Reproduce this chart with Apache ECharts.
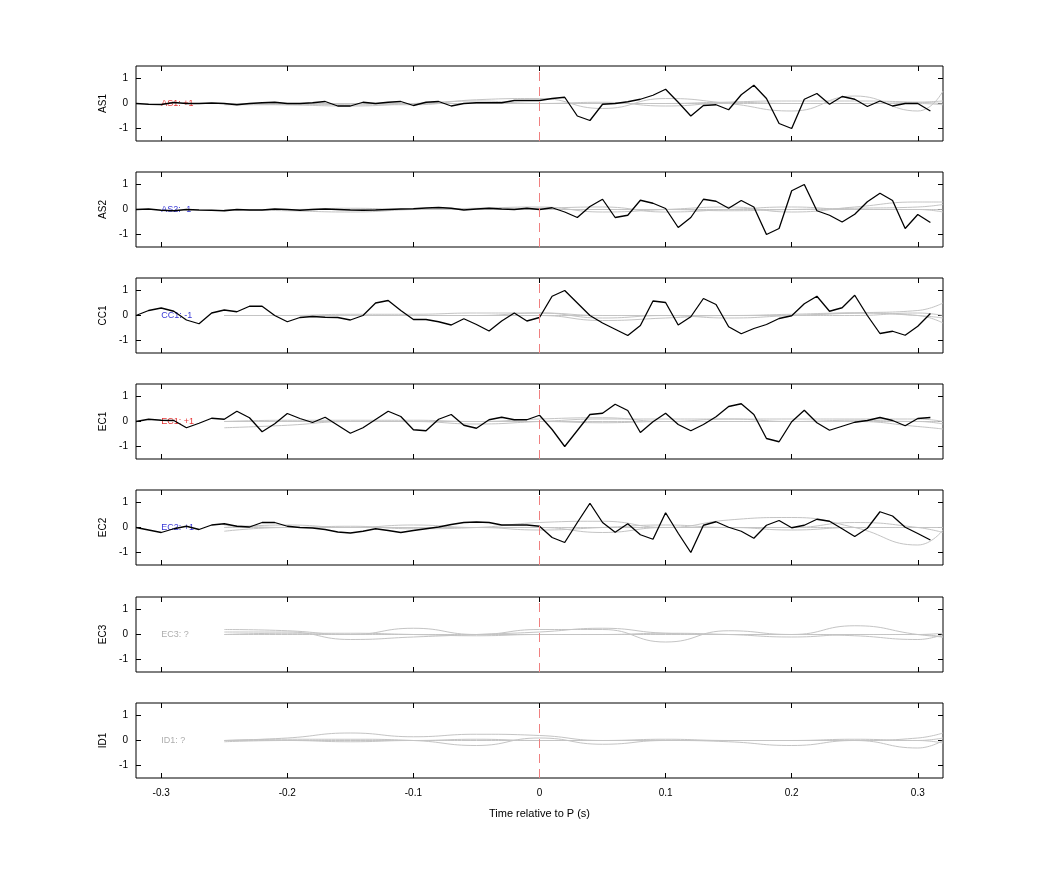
<!DOCTYPE html>
<html><head><meta charset="utf-8">
<script src="https://cdn.jsdelivr.net/npm/echarts@6/dist/echarts.min.js"></script>
<style>html,body{margin:0;padding:0;background:#fff}#c{width:1042px;height:875px}</style>
</head><body><div id="c"></div>
<script>
const channels = ['AS1','AS2','CC1','EC1','EC2','EC3','ID1'];
const labels = ['AS1: +1','AS2: -1','CC1: -1','EC1: +1','EC2: +1','EC3: ?','ID1: ?'];
const labelColors = ['#e00000','#0000cc','#0000cc','#e00000','#0000cc','#999999','#999999'];
const times = [-0.32,-0.31,-0.30,-0.29,-0.28,-0.27,-0.26,-0.25,-0.24,-0.23,-0.22,-0.21,-0.20,-0.19,-0.18,-0.17,-0.16,-0.15,-0.14,-0.13,-0.12,-0.11,-0.10,-0.09,-0.08,-0.07,-0.06,-0.05,-0.04,-0.03,-0.02,-0.01,
 0,0.01,0.02,0.03,0.04,0.05,0.06,0.07,0.08,0.09,0.10,0.11,0.12,0.13,0.14,0.15,0.16,0.17,0.18,0.19,0.20,0.21,0.22,0.23,0.24,0.25,0.26,0.27,0.28,0.29,0.30,0.31];
const AS1 = [0,-0.03,-0.04,0.04,0,0,0.02,0,-0.05,0,0.03,0.05,0,0,0.03,0.08,-0.1,-0.1,0.05,0,0.05,0.08,-0.08,0.05,0.08,-0.1,0,0.03,0.03,0.03,0.12,0.12,
 0.12,0.2,0.25,-0.5,-0.68,-0.03,0,0.07,0.17,0.33,0.57,0.05,-0.5,-0.08,-0.05,-0.25,0.35,0.73,0.2,-0.8,-1.0,0.17,0.4,-0.03,0.28,0.17,-0.12,0.1,-0.1,0,0,-0.3];
const AS2 = [0,0.02,-0.03,-0.05,0,-0.02,-0.03,-0.05,0,-0.02,-0.02,0.02,0,-0.03,0,0.02,0,-0.02,-0.03,-0.02,0,0.02,0.03,0.06,0.08,0.05,-0.02,0.02,0.05,0.02,0,0.05,
 0,0.07,-0.1,-0.32,0.12,0.41,-0.32,-0.23,0.37,0.25,0.04,-0.72,-0.32,0.41,0.33,0.05,0.36,0.1,-1.0,-0.76,0.75,1.0,-0.05,-0.23,-0.5,-0.19,0.31,0.65,0.36,-0.76,-0.2,-0.52];
const CC1 = [0,0.2,0.3,0.17,-0.18,-0.33,0.1,0.22,0.15,0.37,0.37,0,-0.25,-0.08,-0.04,-0.07,-0.08,-0.18,0,0.5,0.6,0.2,-0.16,-0.16,-0.25,-0.38,-0.13,-0.36,-0.62,-0.22,0.1,-0.22,
 -0.08,0.77,1.0,0.5,0,-0.3,-0.55,-0.8,-0.4,0.58,0.52,-0.38,-0.05,0.68,0.44,-0.45,-0.73,-0.52,-0.36,-0.12,-0.01,0.47,0.77,0.17,0.31,0.81,0,-0.72,-0.63,-0.79,-0.43,0.08];
const EC1 = [0,0.09,0.05,0.04,-0.25,-0.07,0.13,0.09,0.41,0.15,-0.41,-0.09,0.32,0.12,-0.04,0.17,-0.15,-0.47,-0.25,0.08,0.41,0.2,-0.33,-0.37,0.09,0.28,-0.15,-0.27,0.07,0.17,0.07,0.07,
 0.25,-0.32,-1.0,-0.36,0.28,0.33,0.69,0.44,-0.44,-0.01,0.33,-0.12,-0.37,-0.12,0.19,0.6,0.71,0.28,-0.68,-0.81,-0.01,0.45,-0.05,-0.35,-0.19,-0.03,0.04,0.16,0.04,-0.17,0.12,0.16];
const EC2 = [0,-0.1,-0.2,-0.05,0.05,-0.08,0.1,0.15,0.05,0.02,0.2,0.2,0.05,0,-0.02,-0.08,-0.18,-0.22,-0.15,-0.05,-0.12,-0.2,-0.12,-0.05,0.02,0.12,0.2,0.22,0.2,0.1,0.1,0.1,
 0.05,-0.4,-0.6,0.2,0.97,0.2,-0.19,0.15,-0.29,-0.47,0.59,-0.23,-1.0,0.09,0.23,0.01,-0.15,-0.43,0.09,0.28,-0.01,0.09,0.33,0.25,-0.05,-0.36,-0.03,0.63,0.46,0.01,-0.24,-0.5];
const blackSeries = [AS1, AS2, CC1, EC1, EC2, null, null];
const grayTimes = [-0.25,-0.2,-0.15,-0.1,-0.05,0,0.05,0.1,0.15,0.2,0.25,0.3,0.32];
const grayAS1 = [[0,0,-0.05,-0.05,0.15,0.2,-0.2,0.2,0,-0.3,0.3,-0.3,0.5],[0,-0.05,-0.1,0,0.1,0,0.05,-0.1,0.05,0.1,0.1,0.05,0],[-0.05,-0.05,0,0,0,0,0,0,0.05,0,0,0,-0.05],[0,0,0,0,0,0,0,0,0,0,0,0.05,0.1]];
const grayAS2 = [[0,-0.05,-0.1,0,0.05,0.1,-0.1,0,0.1,-0.1,0.1,0.3,0.3],[0,0,0.05,0,0,0.05,0.1,-0.1,0,0.1,0,0,-0.1],[-0.05,0,0,0,0,0,0,0,-0.05,0,0.05,0.1,0.2],[0,0,0,0,0,0,0,0,0,0,0,0,0]];
const grayCC1 = [[0,0,0,0,0,0.1,-0.1,0,-0.1,0,0.1,0.2,0.5],[0,0,0.05,0.05,0.1,0.1,0,0,0,0.05,0.1,0,-0.3],[0,0,0,0,0,0,-0.2,-0.1,0,0,0.1,0,-0.1],[0,0,0,0,0,0,0,0,0,0,0,0.1,0]];
const grayEC1 = [[-0.25,-0.15,0,0,0,0,0,0,0,0,0,0,-0.1],[0,0.05,0.05,0.05,0,0.1,0.15,0,0.1,0.1,0.1,0.1,0],[0,0,0,0,-0.1,0,0.1,0.1,0.1,0,0,-0.2,-0.3],[0,0,0,0,0,0,-0.05,0,0,0,0.05,0,0]];
const grayEC2 = [[0.1,0,0.05,-0.05,0,0.2,0.25,0,0.3,0.4,0,-0.7,-0.1],[-0.15,0,0,0,0,-0.1,0,0.1,0,0,0.2,0,-0.2],[0,0.1,0,0.1,0,0,-0.2,0,0,-0.1,0,0,0],[0,0,0,0,0,0,0,0,0,0,0,0,0]];
const grayEC3 = [[0.2,0.15,0,0.25,0,0.2,0.2,-0.3,0.15,0,0.35,0,-0.1],[0.1,0.1,-0.2,-0.1,0,0.1,0.25,0.05,0,0,-0.05,-0.2,0],[0,0,0,0,0,0,0,0,0,0,0,0,0.05],[0,0.05,0.05,0,-0.05,0,0,0.05,0,-0.1,0,0,-0.1]];
const grayID1 = [[0,0.1,0.3,0.15,0.25,0.2,0,0.05,0,0,0,0.1,0.3],[0,0.05,0.05,0,-0.2,0.1,-0.15,0,-0.05,-0.2,0,-0.3,0],[-0.05,0,0,0,0.05,0,0,0,0,0,0.05,0,0.1],[0,0,-0.05,0,0,0,0,0,0,0,0,0,-0.1]];
const grays = [grayAS1, grayAS2, grayCC1, grayEC1, grayEC2, grayEC3, grayID1];
const xTicks = [-0.3,-0.2,-0.1,0,0.1,0.2,0.3];
const yTicks = [-1,0,1];

const tops = [66,172,278,384,490,597,703];
const grid=[], xAxis=[], yAxis=[], series=[];
const tick = {inside:true,length:5,lineStyle:{color:'#000'}};
channels.forEach((ch,i)=>{
  grid.push({left:136,right:99,top:tops[i],height:75,show:true,borderColor:'#000',borderWidth:1});
  const xb = {type:'value',gridIndex:i,min:-0.32,max:0.32,
    axisLine:{show:false,onZero:false},splitLine:{show:false},
    axisTick:Object.assign({customValues:xTicks},tick),
    axisLabel:{show:i===6,customValues:xTicks,color:'#000',fontSize:10,fontFamily:'Liberation Sans',margin:10}};
  if(i===6){xb.name='Time relative to P (s)';xb.nameLocation='middle';xb.nameGap=30;xb.nameTextStyle={color:'#000',fontSize:11,fontFamily:'Liberation Sans'};}
  xAxis.push(xb);
  xAxis.push({type:'value',gridIndex:i,position:'top',min:-0.32,max:0.32,axisLine:{show:false,onZero:false},splitLine:{show:false},
    axisTick:Object.assign({customValues:xTicks},tick),axisLabel:{show:false,customValues:xTicks}});
  yAxis.push({type:'value',gridIndex:i,min:-1.5,max:1.5,name:ch,nameLocation:'middle',nameGap:26,nameRotate:90,
    nameTextStyle:{color:'#000',fontSize:10,fontFamily:'Liberation Sans'},
    axisLine:{show:false,onZero:false},splitLine:{show:false},
    axisTick:Object.assign({customValues:yTicks},tick),
    axisLabel:{customValues:yTicks,color:'#000',fontSize:10,fontFamily:'Liberation Sans'}});
  yAxis.push({type:'value',gridIndex:i,position:'right',min:-1.5,max:1.5,axisLine:{show:false,onZero:false},splitLine:{show:false},
    axisTick:Object.assign({customValues:yTicks},tick),axisLabel:{show:false,customValues:yTicks}});
  grays[i].forEach(g=>{
    series.push({type:'line',xAxisIndex:2*i,yAxisIndex:2*i,smooth:0.5,symbol:'none',silent:true,
      lineStyle:{color:'#c4c4c4',width:1},data:grayTimes.map((t,k)=>[t,g[k]])});
  });
  series.push({type:'line',xAxisIndex:2*i,yAxisIndex:2*i,symbol:'none',lineStyle:{color:'#000',width:1.3},
    data: blackSeries[i]? times.map((t,k)=>[t,blackSeries[i][k]]):[],
    markLine:{silent:true,symbol:'none',label:{show:false},lineStyle:{color:'#f08080',type:[9,6],width:1},data:[{xAxis:0}]}});
  series.push({type:'scatter',xAxisIndex:2*i,yAxisIndex:2*i,symbolSize:0,data:[[-0.3,0]],silent:true,
    label:{show:true,position:'right',distance:0,formatter:labels[i],color:labelColors[i],fontSize:9,fontFamily:'Liberation Sans'}});
});
const chart = echarts.init(document.getElementById('c'));
chart.setOption({animation:false,backgroundColor:'#fff',grid,xAxis,yAxis,series});
</script></body></html>
